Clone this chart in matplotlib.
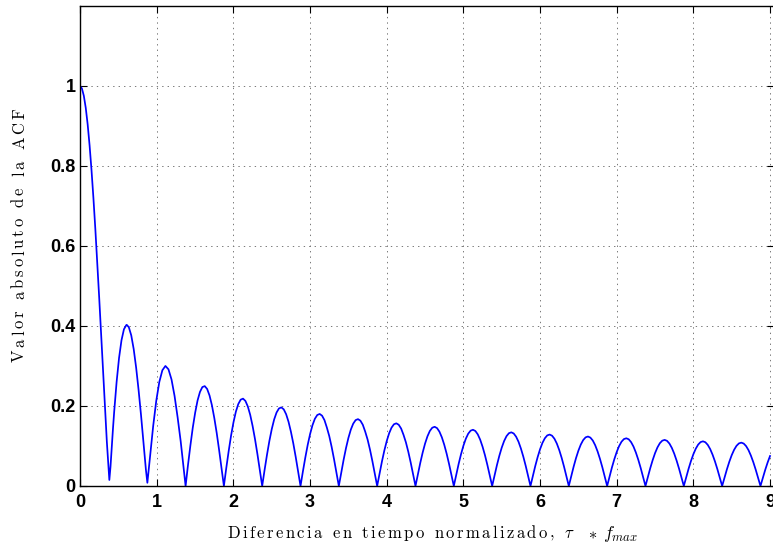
import matplotlib
matplotlib.use("Agg")
import matplotlib.pyplot as plt
from matplotlib.font_manager import FontProperties, findfont
from matplotlib.ft2font import FT2Font

# Normalized time difference (tau * f_max) and absolute ACF value
tau = [
    0.0, 0.025, 0.05, 0.075, 0.1, 0.125, 0.15, 0.175, 0.2, 0.225, 0.25, 0.275, 0.3, 0.325, 0.35, 0.3827,
    0.3979, 0.4138, 0.4297, 0.4456, 0.4775, 0.5093, 0.5411, 0.5730, 0.6048, 0.6098, 0.6366, 0.6685,
    0.7003, 0.7321, 0.7639, 0.7958, 0.8276, 0.8594, 0.8786,
    0.9151, 0.9549, 0.9947, 1.0345, 1.0743, 1.1141, 1.1539, 1.1937, 1.2335, 1.2732, 1.3130, 1.3528, 1.3773,
    1.4085, 1.4397, 1.4709, 1.5022, 1.5334, 1.5646, 1.5958, 1.6270, 1.6582, 1.6894, 1.7206, 1.7519, 1.7831, 1.8143, 1.8455, 1.8767,
    1.9079, 1.9392, 1.9704, 2.0016, 2.0328, 2.0641, 2.0953, 2.1265, 2.1577, 2.1890, 2.2202, 2.2514, 2.2826, 2.3139, 2.3451, 2.3763,
    2.4075, 2.4388, 2.4700, 2.5012, 2.5324, 2.5637, 2.5949, 2.6262, 2.6575, 2.6887, 2.7199, 2.7511, 2.7824, 2.8136, 2.8448, 2.8761,
    2.9073, 2.9386, 2.9698, 3.0011, 3.0323, 3.0635, 3.0948, 3.1260, 3.1572, 3.1885, 3.2197, 3.2510, 3.2822, 3.3134, 3.3446, 3.3759,
    3.4072, 3.4384, 3.4697, 3.5009, 3.5322, 3.5634, 3.5947, 3.6259, 3.6572, 3.6884, 3.7197, 3.7509, 3.7822, 3.8134, 3.8447, 3.8758,
    3.9071, 3.9383, 3.9696, 4.0008, 4.0321, 4.0633, 4.0946, 4.1258, 4.1571, 4.1883, 4.2196, 4.2508, 4.2821, 4.3133, 4.3446, 4.3757,
    4.4070, 4.4382, 4.4695, 4.5007, 4.5320, 4.5632, 4.5945, 4.6257, 4.6570, 4.6882, 4.7195, 4.7507, 4.7820, 4.8132, 4.8445, 4.8756,
    4.9069, 4.9381, 4.9694, 5.0006, 5.0319, 5.0631, 5.0944, 5.1256, 5.1569, 5.1881, 5.2194, 5.2506, 5.2819, 5.3131, 5.3444, 5.3756,
    5.4069, 5.4381, 5.4694, 5.5006, 5.5319, 5.5631, 5.5944, 5.6256, 5.6569, 5.6881, 5.7194, 5.7506, 5.7819, 5.8131, 5.8444, 5.8755,
    5.9068, 5.9380, 5.9693, 6.0005, 6.0318, 6.0630, 6.0943, 6.1255, 6.1568, 6.1880, 6.2193, 6.2505, 6.2818, 6.3130, 6.3443, 6.3755,
    6.4068, 6.4380, 6.4693, 6.5005, 6.5318, 6.5630, 6.5943, 6.6255, 6.6568, 6.6880, 6.7193, 6.7505, 6.7818, 6.8130, 6.8443, 6.8754,
    6.9067, 6.9379, 6.9692, 7.0004, 7.0317, 7.0629, 7.0942, 7.1254, 7.1567, 7.1879, 7.2192, 7.2504, 7.2817, 7.3129, 7.3442, 7.3754,
    7.4067, 7.4379, 7.4692, 7.5004, 7.5317, 7.5629, 7.5942, 7.6254, 7.6567, 7.6879, 7.7192, 7.7504, 7.7817, 7.8129, 7.8442, 7.8754,
    7.9067, 7.9379, 7.9692, 8.0004, 8.0317, 8.0629, 8.0942, 8.1254, 8.1567, 8.1879, 8.2192, 8.2504, 8.2817, 8.3129, 8.3442, 8.3754,
    8.4067, 8.4379, 8.4692, 8.5004, 8.5317, 8.5629, 8.5942, 8.6254, 8.6567, 8.6879, 8.7192, 8.7504, 8.7817, 8.8129, 8.8441, 8.8753,
    8.9066, 8.9378, 8.9691, 9.0,
]
acf = [
    1.0, 0.9938, 0.9755, 0.9453, 0.9038, 0.8516, 0.7899, 0.7199, 0.6425, 0.5594, 0.4720, 0.3818, 0.2906, 0.2000, 0.1110, 0.015,
    0.0484, 0.0968, 0.1424, 0.1850, 0.2601, 0.3202, 0.3643, 0.3918, 0.4026, 0.4028, 0.3971, 0.3766,
    0.3423, 0.2961, 0.2404, 0.1776, 0.1103, 0.0412, 0.008,
    0.0766, 0.1506, 0.2131, 0.2601, 0.2894, 0.3001, 0.2917, 0.2663, 0.2250, 0.1717, 0.1122, 0.0419, 0.0,
    0.0524, 0.1011, 0.1459, 0.1834, 0.2139, 0.2351, 0.2473, 0.2497, 0.2426, 0.2263, 0.2019, 0.1698, 0.1325, 0.0901, 0.0457, 0.0,
    0.0450, 0.0873, 0.1261, 0.1590, 0.1857, 0.2047, 0.2158, 0.2184, 0.2126, 0.1988, 0.1777, 0.1499, 0.1171, 0.0799, 0.0406, 0.0,
    0.0400, 0.0779, 0.1126, 0.1423, 0.1664, 0.1837, 0.1939, 0.1965, 0.1916, 0.1794, 0.1605, 0.1356, 0.1061, 0.0725, 0.0368, 0.0,
    0.0364, 0.0710, 0.1027, 0.1299, 0.1520, 0.1681, 0.1775, 0.1801, 0.1758, 0.1647, 0.1462, 0.1248, 0.0977, 0.0669, 0.0340, 0.0,
    0.0336, 0.0656, 0.0950, 0.1203, 0.1409, 0.1558, 0.1647, 0.1672, 0.1633, 0.1532, 0.1361, 0.1162, 0.0910, 0.0623, 0.0317, 0.0,
    0.0314, 0.0613, 0.0888, 0.1125, 0.1318, 0.1459, 0.1543, 0.1567, 0.1531, 0.1437, 0.1279, 0.1091, 0.0855, 0.0586, 0.0298, 0.0,
    0.0296, 0.0578, 0.0837, 0.1061, 0.1243, 0.1377, 0.1457, 0.1480, 0.1447, 0.1358, 0.1218, 0.1032, 0.0809, 0.0555, 0.0282, 0.0,
    0.0280, 0.0548, 0.0793, 0.1006, 0.1180, 0.1307, 0.1383, 0.1406, 0.1375, 0.1291, 0.1159, 0.0982, 0.0770, 0.0528, 0.0269, 0.0,
    0.0267, 0.0522, 0.0756, 0.0959, 0.1125, 0.1247, 0.1320, 0.1342, 0.1313, 0.1233, 0.1107, 0.0938, 0.0735, 0.0505, 0.0257, 0.0,
    0.0255, 0.0500, 0.0724, 0.0919, 0.1078, 0.1194, 0.1265, 0.1286, 0.1258, 0.1182, 0.1061, 0.0900, 0.0706, 0.0485, 0.0247, 0.0,
    0.0245, 0.0480, 0.0696, 0.0883, 0.1036, 0.1148, 0.1216, 0.1237, 0.1210, 0.1138, 0.1021, 0.0866, 0.0679, 0.0467, 0.0237, 0.0,
    0.0236, 0.0463, 0.0670, 0.0851, 0.0999, 0.1107, 0.1173, 0.1193, 0.1168, 0.1097, 0.0986, 0.0836, 0.0656, 0.0451, 0.0229, 0.0,
    0.0228, 0.0447, 0.0647, 0.0822, 0.0965, 0.1070, 0.1133, 0.1153, 0.1129, 0.1061, 0.0953, 0.0809, 0.0634, 0.0436, 0.0222, 0.0,
    0.0221, 0.0432, 0.0627, 0.0796, 0.0934, 0.1036, 0.1098, 0.1117, 0.1094, 0.1028, 0.0924, 0.0784, 0.0615, 0.0423, 0.0215, 0.0,
    0.0214, 0.0419, 0.0608, 0.0772, 0.0906, 0.1005, 0.1065, 0.1084, 0.1061, 0.0998, 0.0897, 0.0761, 0.0597, 0.0410, 0.0209, 0.0,
    0.0207, 0.0407, 0.0590, 0.0750,
]

x_ticks = [0, 1, 2, 3, 4, 5, 6, 7, 8, 9]
x_tick_labels = ["0", "1", "2", "3", "4", "5", "6", "7", "8", "9"]
y_ticks = [0, 0.2, 0.4, 0.6, 0.8, 1.0]
y_tick_labels = ["0", "0.2", "0.4", "0.6", "0.8", "1"]

x_label_text = "Diferencia en tiempo normalizado,"
x_label_math = [r"$\tau$", r"$*$", r"$f_{max}$"]
y_label_text = "Valor absoluto de la ACF"

plt.rcParams["mathtext.fontset"] = "cm"

W, H = 773, 548
DPI = 100
fig = plt.figure(figsize=(W / DPI, H / DPI), dpi=DPI)
left, right, top, bottom = 80, 774, 6, 486
px_per_unit = 76.67
ax = fig.add_axes([left / W, 1 - bottom / H, (right - left) / W, (bottom - top) / H])

ax.plot(tau, acf, color="#0000ff", linewidth=1.25)

ax.set_xlim(0, (right - left) / px_per_unit)
ax.set_ylim(0, 1.2)
ax.set_xticks(x_ticks)
ax.set_xticklabels(x_tick_labels)
ax.set_yticks(y_ticks)
ax.set_yticklabels(y_tick_labels)

for lab in ax.get_xticklabels() + ax.get_yticklabels():
    lab.set_fontfamily("Liberation Sans")
    lab.set_fontweight("bold")
    lab.set_fontsize(13)

ax.tick_params(axis="x", direction="in", length=5, width=0.8, top=True, pad=6)
ax.tick_params(axis="y", direction="in", length=5, width=0.8, right=True, pad=3)
ax.grid(True, color="#777777", linestyle=(0, (1.4, 4.2)), linewidth=0.7)
for sp in ax.spines.values():
    sp.set_linewidth(1.0)

# Letter-spaced serif labels (the reference's LaTeX labels are widely tracked)
LABEL_FAMILY = "cmr10"
LABEL_SIZE = 12


def char_advances(text):
    font = FT2Font(findfont(FontProperties(family=LABEL_FAMILY)))
    font.set_size(LABEL_SIZE, DPI)
    em = LABEL_SIZE * DPI / 72
    adv = []
    for ch in text:
        if ch == " ":
            adv.append(0.333 * em)
        else:
            adv.append(font.load_char(ord(ch)).linearHoriAdvance / 65536)
    return adv


def spaced_label(text, start, end, base, vertical=False):
    adv = char_advances(text)
    gap = (abs(end - start) - sum(adv)) / (len(text) - 1)
    pos = start
    for ch, a in zip(text, adv):
        if ch != " ":
            if vertical:
                fig.text(base / W, 1 - pos / H, ch, fontfamily=LABEL_FAMILY, fontsize=LABEL_SIZE,
                         rotation=90, rotation_mode="anchor", ha="left", va="baseline")
            else:
                fig.text(pos / W, 1 - base / H, ch, fontfamily=LABEL_FAMILY, fontsize=LABEL_SIZE,
                         ha="left", va="baseline")
        if vertical:
            pos -= a + gap
        else:
            pos += a + gap


spaced_label(x_label_text, 227, 554, 538)
for piece, xp, fs in zip(x_label_math, [564, 588, 603], [12, 12, 13]):
    fig.text(xp / W, 1 - 538 / H, piece, fontsize=fs, ha="left", va="baseline")

spaced_label(y_label_text, 362, 108, 24, vertical=True)

fig.savefig("out.png", dpi=DPI)
